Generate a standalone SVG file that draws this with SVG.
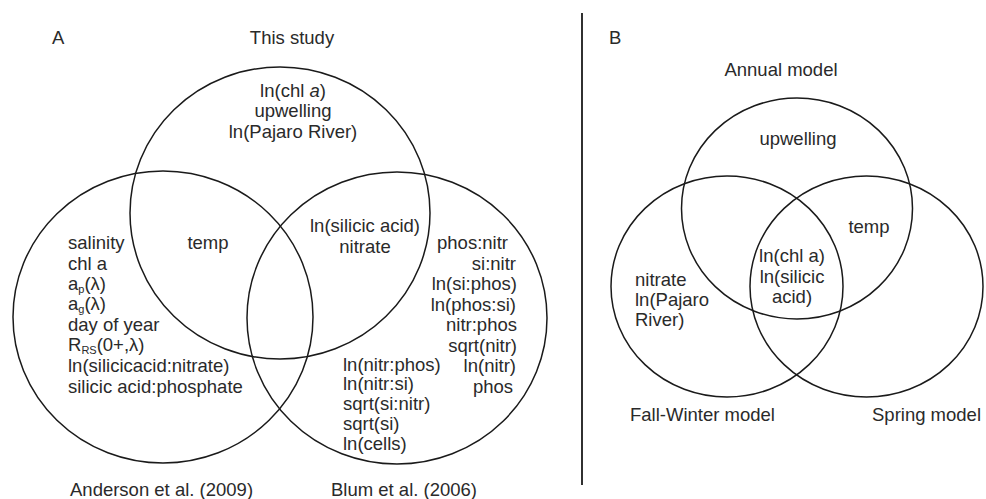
<svg xmlns="http://www.w3.org/2000/svg" width="986" height="499" viewBox="0 0 986 499">
<style>
text{font-family:"Liberation Sans",Arial,Helvetica,sans-serif;font-size:18.5px;fill:#2a2a2a}
.c{fill:none;stroke:#1a1a1a;stroke-width:1.5}
.m{text-anchor:middle}
.e{text-anchor:end}
.s{font-size:11px}
</style>
<rect width="986" height="499" fill="#ffffff"/>
<g id="panelA">
  <text x="52" y="44">A</text>
  <g id="this-study">
    <ellipse class="c" cx="280" cy="213" rx="150" ry="146"/>
    <text class="m" x="292" y="44">This study</text>
    <text class="m" x="293" y="97">ln(chl <tspan font-style="italic">a</tspan>)</text>
    <text class="m" x="293" y="117">upwelling</text>
    <text class="m" x="293" y="138">ln(Pajaro River)</text>
  </g>
  <g id="anderson">
    <ellipse class="c" cx="163" cy="317" rx="150" ry="146"/>
    <text x="68" y="249">salinity</text>
    <text x="68" y="270">chl a</text>
    <text x="68" y="290">a<tspan class="s" dy="2.5">p</tspan><tspan dy="-2.5">(λ)</tspan></text>
    <text x="68" y="310">a<tspan class="s" dy="2.5">g</tspan><tspan dy="-2.5">(λ)</tspan></text>
    <text x="68" y="331">day of year</text>
    <text x="68" y="351">R<tspan class="s" dy="2.5">RS</tspan><tspan dy="-2.5">(0+,λ)</tspan></text>
    <text x="68" y="372">ln(silicicacid:nitrate)</text>
    <text x="68" y="393">silicic acid:phosphate</text>
    <text x="70" y="496">Anderson et al. (2009)</text>
  </g>
  <g id="blum">
    <ellipse class="c" cx="397" cy="318" rx="150" ry="146"/>
    <text class="e" x="508" y="249">phos:nitr</text>
    <text class="e" x="516" y="270">si:nitr</text>
    <text class="e" x="517" y="290">ln(si:phos)</text>
    <text class="e" x="516" y="311">ln(phos:si)</text>
    <text class="e" x="517" y="331">nitr:phos</text>
    <text class="e" x="517" y="352">sqrt(nitr)</text>
    <text class="e" x="516" y="372">ln(nitr)</text>
    <text class="e" x="513" y="393">phos</text>
    <text x="343" y="371">ln(nitr:phos)</text>
    <text x="343" y="390">ln(nitr:si)</text>
    <text x="343" y="410">sqrt(si:nitr)</text>
    <text x="343" y="430">sqrt(si)</text>
    <text x="343" y="450">ln(cells)</text>
    <text x="331" y="496">Blum et al. (2006)</text>
  </g>
  <g id="overlaps-A">
    <text class="m" x="208" y="249">temp</text>
    <text class="m" x="365" y="232">ln(silicic acid)</text>
    <text class="m" x="365" y="253">nitrate</text>
  </g>
</g>
<g id="divider">
  <line x1="582" y1="13" x2="582" y2="485" stroke="#1a1a1a" stroke-width="1.8"/>
</g>
<g id="panelB">
  <text x="609" y="44">B</text>
  <g id="annual">
    <ellipse class="c" cx="797" cy="208.5" rx="115.5" ry="110.5"/>
    <text class="m" x="781" y="76">Annual model</text>
    <text class="m" x="798" y="145">upwelling</text>
  </g>
  <g id="fall-winter">
    <ellipse class="c" cx="727" cy="286.5" rx="116" ry="110.5"/>
    <text x="635" y="286">nitrate</text>
    <text x="635" y="306">ln(Pajaro</text>
    <text x="635" y="326">River)</text>
    <text x="630" y="421">Fall-Winter model</text>
  </g>
  <g id="spring">
    <ellipse class="c" cx="866.5" cy="286.5" rx="116.5" ry="110.5"/>
    <text x="872" y="421">Spring model</text>
  </g>
  <g id="overlaps-B">
    <text class="m" x="869" y="233">temp</text>
    <text class="m" x="792" y="262">ln(chl a)</text>
    <text class="m" x="792" y="283">ln(silicic</text>
    <text class="m" x="792" y="303">acid)</text>
  </g>
</g>
</svg>
